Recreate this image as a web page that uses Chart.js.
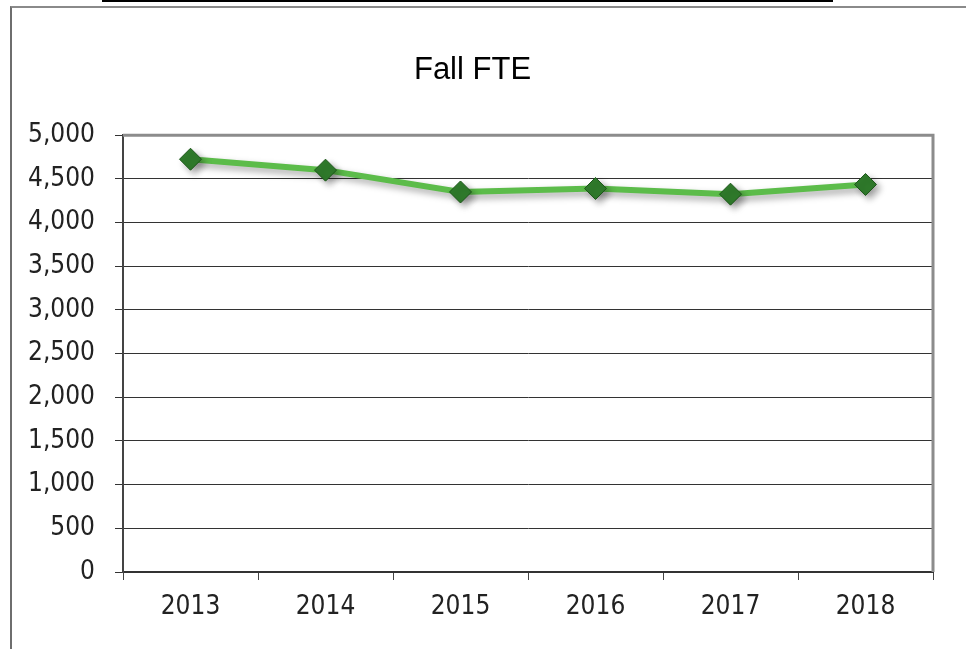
<!DOCTYPE html>
<html>
<head>
<meta charset="utf-8">
<script src="https://cdn.jsdelivr.net/npm/chart.js@4"></script>
<style>
  body { margin: 0; background: #fff; }
  #topLine { position: absolute; left: 102px; top: 0; width: 731px; height: 2px; background: #000; }
  #frame { position: absolute; left: 10px; top: 6px; width: 956px; height: 643px;
           border-left: 2px solid #6e6e6e; border-top: 2px solid #8a8a8a; }
  #wrap { position: absolute; left: 12px; top: 8px; }
</style>
</head>
<body>
<div id="topLine"></div>
<div id="frame"></div>
<div id="wrap"><canvas id="fteChart" width="954" height="641"></canvas></div>
<script>
const years = ['2013', '2014', '2015', '2016', '2017', '2018'];
const fallFte = [4725, 4600, 4350, 4390, 4325, 4436];
const yTicks = [0, 500, 1000, 1500, 2000, 2500, 3000, 3500, 4000, 4500, 5000];

const tickFont = { family: '"Liberation Sans Narrow", "DejaVu Sans Condensed", sans-serif', size: 26 };

// soft drop shadow under the line and markers
const shadowPlugin = {
    id: 'shadow',
    beforeDatasetDraw(chart) {
        const ctx = chart.ctx;
        ctx.save();
        ctx.shadowColor = 'rgba(0, 0, 0, 0.35)';
        ctx.shadowBlur = 7;
        ctx.shadowOffsetX = 4;
        ctx.shadowOffsetY = 4;
    },
    afterDatasetDraw(chart) {
        chart.ctx.restore();
    }
};

// gray top/right border of the plot area
const plotBorder = {
    id: 'plotBorder',
    beforeDatasetsDraw(chart) {
        const { ctx, chartArea: a } = chart;
        ctx.save();
        ctx.strokeStyle = '#8c8c8c';
        ctx.lineWidth = 3;
        ctx.beginPath();
        ctx.moveTo(a.left, a.top);
        ctx.lineTo(a.right, a.top);
        ctx.lineTo(a.right, a.bottom);
        ctx.stroke();
        ctx.restore();
    }
};

new Chart(document.getElementById('fteChart'), {
    type: 'line',
    data: {
        labels: years,
        datasets: [{
            label: 'Fall FTE',
            data: fallFte,
            borderColor: '#5cbc4a',
            borderWidth: 6,
            tension: 0,
            pointStyle: 'rectRot',
            pointRadius: 11,
            pointHoverRadius: 11,
            pointBackgroundColor: '#2f7a2b',
            pointBorderColor: '#1c5619',
            pointBorderWidth: 1
        }]
    },
    options: {
        responsive: false,
        devicePixelRatio: 1,
        animation: false,
        layout: { padding: { left: 0, right: 33, top: 0, bottom: 0 } },
        plugins: {
            legend: { display: false },
            tooltip: { enabled: false },
            title: {
                display: true,
                text: 'Fall FTE',
                color: '#000',
                font: { family: '"Liberation Sans", Arial, sans-serif', size: 31, weight: 'normal' },
                padding: { top: 44, bottom: 46 }
            }
        },
        scales: {
            x: {
                offset: true,
                grid: { offset: true, drawOnChartArea: false, drawTicks: true, tickLength: 8, color: '#444' },
                border: { color: '#333', width: 2 },
                ticks: { color: '#222', font: tickFont, padding: 12, maxRotation: 0 },
                afterFit(scale) { scale.height = 77; }
            },
            y: {
                min: 0,
                max: 5000,
                afterBuildTicks(scale) { scale.ticks = yTicks.map(v => ({ value: v })); },
                grid: { color: '#333', lineWidth: 1, tickLength: 8 },
                border: { color: '#444', width: 2 },
                ticks: {
                    color: '#222',
                    font: tickFont,
                    padding: 20,
                    callback: v => v.toString().replace(/\B(?=(\d{3})+(?!\d))/g, ',')
                },
                afterFit(scale) { scale.width = 111; }
            }
        }
    },
    plugins: [shadowPlugin, plotBorder]
});
</script>
</body>
</html>
